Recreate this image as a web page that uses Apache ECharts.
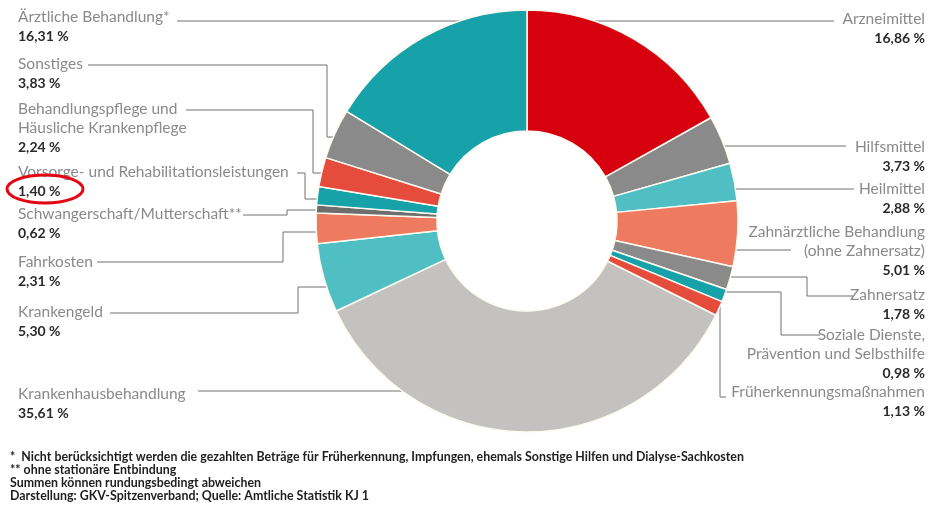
<!DOCTYPE html>
<html>
<head>
<meta charset="utf-8">
<script src="https://cdn.jsdelivr.net/npm/echarts@6/dist/echarts.min.js"></script>
<style>
html,body{margin:0;padding:0;background:#fff;}
#chart{width:931px;height:506px;}
</style>
</head>
<body>
<div id="chart"></div>
<script>
// ---- data ----
const categories = [
  'Arzneimittel',
  'Hilfsmittel',
  'Heilmittel',
  'Zahnärztliche Behandlung\n(ohne Zahnersatz)',
  'Zahnersatz',
  'Soziale Dienste,\nPrävention und Selbsthilfe',
  'Früherkennungsmaßnahmen',
  'Krankenhausbehandlung',
  'Krankengeld',
  'Fahrkosten',
  'Schwangerschaft/Mutterschaft**',
  'Vorsorge- und Rehabilitationsleistungen',
  'Behandlungspflege und\nHäusliche Krankenpflege',
  'Sonstiges',
  'Ärztliche Behandlung*'
];
const shares = [16.86, 3.73, 2.88, 5.01, 1.78, 0.98, 1.13, 35.61, 5.30, 2.31, 0.62, 1.40, 2.24, 3.83, 16.31];
const footnotes = [
  '*  Nicht berücksichtigt werden die gezahlten Beträge für Früherkennung, Impfungen, ehemals Sonstige Hilfen und Dialyse-Sachkosten',
  '** ohne stationäre Entbindung',
  'Summen können rundungsbedingt abweichen',
  'Darstellung: GKV-Spitzenverband; Quelle: Amtliche Statistik KJ 1'
];

// ---- style / layout ----
const palette = ['#d7000f', '#8a8a8a', '#4fbfc3', '#ee7a5f', '#8a8a8a', '#17a2aa', '#e64c3c',
                 '#c4c2c0', '#4fbfc3', '#ee7a5f', '#6e6e6e', '#17a2aa', '#e64c3c', '#8a8a8a', '#17a2aa'];
const CX = 527, CY = 221, R_IN = 90, R_OUT = 211;
const LH = 19;
function ringX(y, side, r) { r = r || 206; const d = Math.sqrt(r * r - (y - CY) * (y - CY)); return side === 'r' ? CX + d : CX - d; }
function ringY(x, r) { r = r || 210; return CY + Math.sqrt(r * r - (x - CX) * (x - CX)); }
// side, name-line centre y, leader polyline (slice -> label)
const layout = [
  { s: 'r', y: 19,  pts: () => [[ringX(21, 'r'), 21], [834, 21]] },
  { s: 'r', y: 147, pts: () => [[ringX(146, 'r', 208), 146], [846, 146]] },
  { s: 'r', y: 189, pts: () => [[ringX(189, 'r'), 189], [854, 189]] },
  { s: 'r', y: 232, pts: () => [[ringX(250, 'r', 209), 250], [791, 250]] },
  { s: 'r', y: 295, pts: () => [[ringX(277, 'r', 208), 277], [807, 277], [807, 296], [853, 296]] },
  { s: 'r', y: 335, pts: () => [[ringX(292, 'r', 208), 292], [781, 292], [781, 335], [820, 335]] },
  { s: 'r', y: 392, pts: () => [[720, ringY(720)], [720, 397], [726, 397]] },
  { s: 'l', y: 394, pts: () => [[ringX(391, 'l'), 391], [198, 391]] },
  { s: 'l', y: 312, pts: () => [[ringX(287, 'l'), 287], [298, 287], [298, 313], [110, 313]] },
  { s: 'l', y: 262, pts: () => [[ringX(232, 'l'), 232], [283, 232], [283, 262], [97, 262]] },
  { s: 'l', y: 214, pts: () => [[ringX(210, 'l'), 210], [287, 210], [287, 215], [243, 215]] },
  { s: 'l', y: 172, pts: () => [[ringX(199, 'l'), 199], [305, 199], [305, 173], [297, 173]] },
  { s: 'l', y: 109, pts: () => [[ringX(173, 'l'), 173], [313, 173], [313, 110], [186, 110]] },
  { s: 'l', y: 64,  pts: () => [[ringX(137, 'l'), 137], [327, 137], [327, 65], [88, 65]] },
  { s: 'l', y: 17,  pts: () => [[ringX(21, 'l'), 21], [177, 21]] }
];

function fmt(v) { return v.toFixed(2).replace('.', ',') + ' %'; }

const data = categories.map((c, i) => ({
  name: c,
  value: shares[i],
  itemStyle: { color: palette[i] }
}));

const FONT = "Lato, 'Open Sans', sans-serif";
const chart = echarts.init(document.getElementById('chart'), null, { renderer: 'canvas' });
chart.setOption({
  animation: false,
  backgroundColor: '#ffffff',
  series: [{
    type: 'pie',
    center: [CX, CY],
    radius: [R_IN, R_OUT],
    startAngle: 90,
    clockwise: true,
    avoidLabelOverlap: false,
    emphasis: { disabled: true },
    itemStyle: { borderColor: '#fffaf0', borderWidth: 1.5 },
    label: {
      show: true,
      position: 'outside',
      formatter: p => p.name.split('\n').map(t => '{n|' + t + '}').join('\n') + '\n{v|' + fmt(p.value) + '}',
      rich: {
        n: { fontFamily: FONT, fontSize: 15.5, color: '#8a8a8a', lineHeight: LH },
        v: { fontFamily: FONT, fontSize: 14, fontWeight: 'bold', color: '#2a2a2a', lineHeight: LH }
      }
    },
    labelLine: { show: true, lineStyle: { color: '#707070', width: 1 } },
    labelLayout: function (p) {
      const L = layout[p.dataIndex];
      return {
        x: L.s === 'r' ? 925 : 18,
        y: L.y - LH / 2,
        align: L.s === 'r' ? 'right' : 'left',
        verticalAlign: 'top',
        labelLinePoints: L.pts()
      };
    },
    data: data
  }],
  graphic: [
    {
      type: 'ellipse', z: 100,
      shape: { cx: 45, cy: 189, rx: 38, ry: 14 },
      style: { fill: 'none', stroke: '#e30613', lineWidth: 3 }
    },
    {
      type: 'text', left: 10, top: 450, z: 100,
      style: {
        text: footnotes.join('\n'),
        fontFamily: "Lato, sans-serif",
        fontSize: 12.4, fontWeight: 'bold', lineHeight: 13, fill: '#1e1e1e'
      }
    }
  ]
});
</script>
</body>
</html>
